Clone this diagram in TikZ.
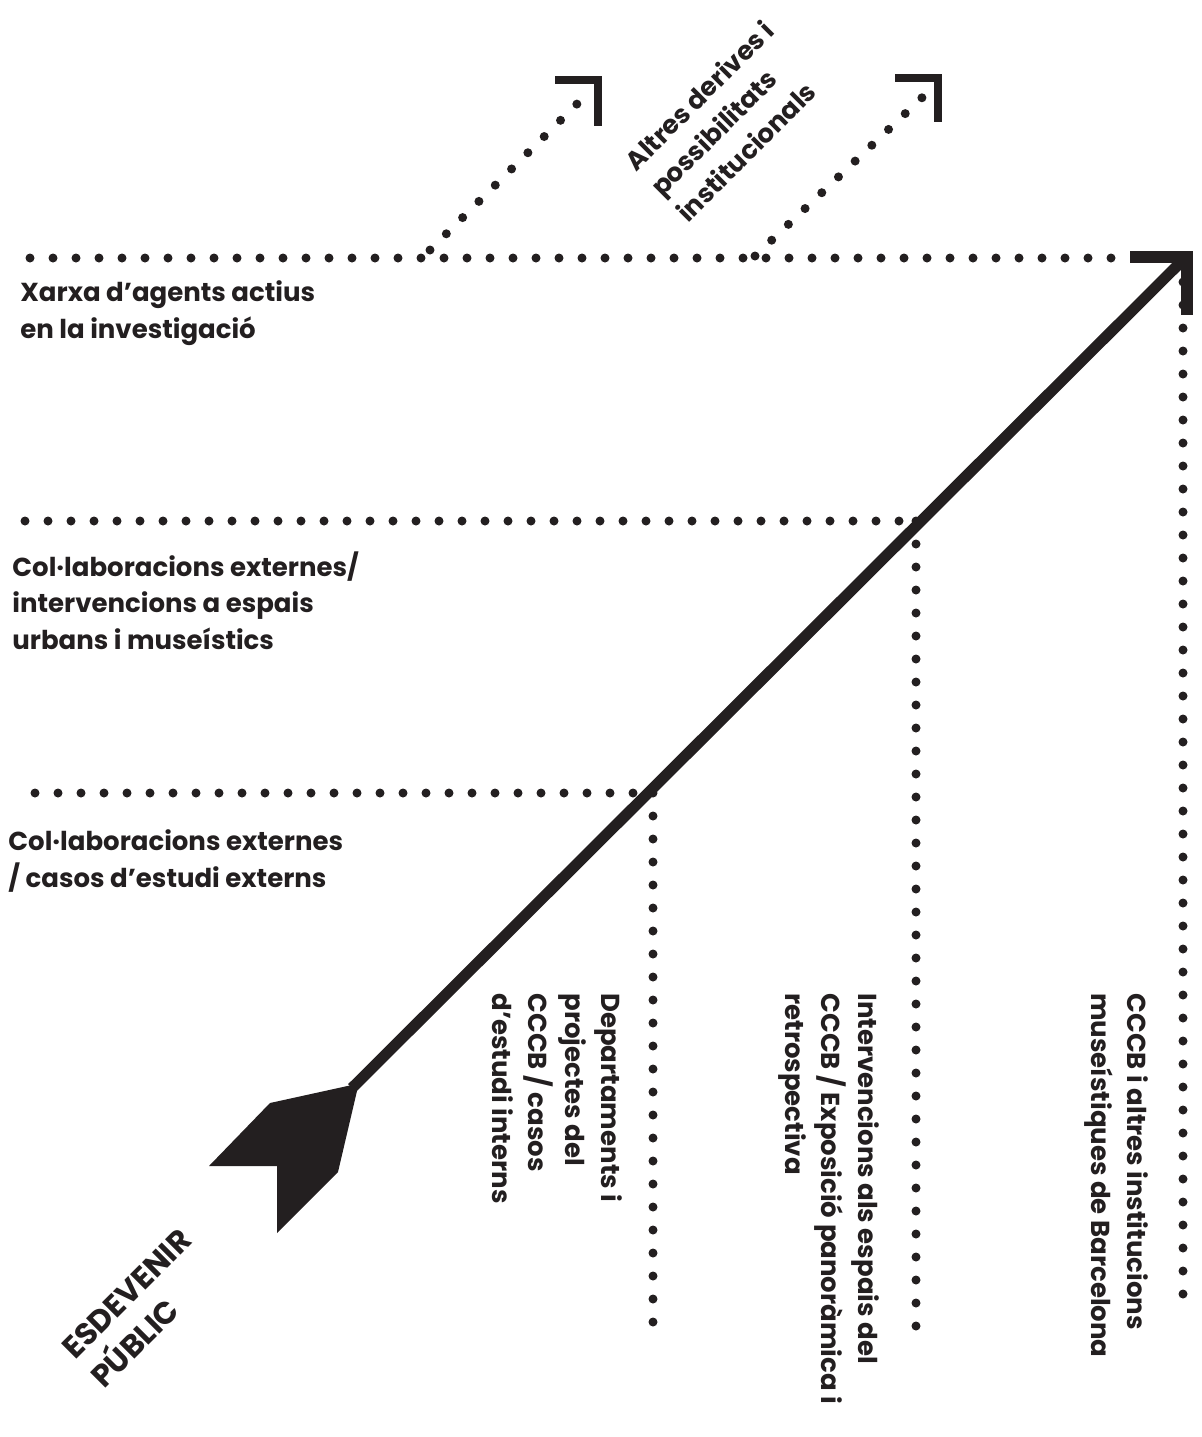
\documentclass[tikz,border=0pt]{standalone}
\usepackage{fontspec}
\setmainfont{Poppins}
\begin{document}
\begin{tikzpicture}[x=0.5pt,y=-0.5pt,
  dotline/.style={line width=4.5pt, line cap=round, dash pattern=on 0pt off 11.5pt, color=ink},
  hook/.style={line width=4.2pt, color=ink, line join=miter, line cap=butt},
  shaft/.style={line width=5.5pt, color=ink},
  lbl/.style={inner sep=0pt, align=left, text=ink, font=\fontsize{13pt}{18.25pt}\selectfont\bfseries},
  biglbl/.style={lbl, font=\fontsize{15.5pt}{20.5pt}\selectfont\bfseries}]
\definecolor{ink}{HTML}{231F20}
\useasboundingbox (0,0) rectangle (1202,1437);

% coordinates
\coordinate (h1s) at (30,258);   \coordinate (h1e) at (1118,258);
\coordinate (h2s) at (25,521);   \coordinate (h2e) at (916,521);
\coordinate (h3s) at (35,793);   \coordinate (h3e) at (653,793);
\coordinate (v1s) at (653,793);  \coordinate (v1e) at (653,1330);
\coordinate (v2s) at (916,521);  \coordinate (v2e) at (916,1326);
\coordinate (v3s) at (1183,282); \coordinate (v3e) at (1183,1316);
\coordinate (d1s) at (430,250);  \coordinate (d1e) at (588,93);
\coordinate (d2s) at (755,256);  \coordinate (d2e) at (928,92);
\coordinate (tail) at (352,1088); \coordinate (head) at (1185,258);

% dotted lines
\draw[dotline] (h1s) -- (h1e);
\draw[dotline] (h2s) -- (h2e);
\draw[dotline] (h3s) -- (h3e);
\draw[dotline] (v1s) -- (v1e);
\draw[dotline] (v2s) -- (v2e);
\draw[dotline] (v3s) -- (v3e);
\draw[dotline] (d1s) -- (d1e);
\draw[dotline] (d2s) -- (d2e);

% small hooks
\draw[hook] (555,80) -- (598,80) -- (598,126);
\draw[hook] (895,78) -- (938,78) -- (938,122);

% main arrow
\draw[shaft] (tail) -- (head);
\draw[line width=6pt, color=ink, line join=miter] (1130,257) -- (1187,257) -- (1187,315);
\fill[ink] (352,1085) -- (357,1091) -- (338,1172) -- (277,1233) -- (277,1166) -- (209,1166) -- (270,1103) -- cycle;

% labels (base west = baseline of the last line)
\node[lbl, anchor=base west] (xarxa) at (20,338) {Xarxa d’agents actius\\en la investigació};
\node[lbl, anchor=base west] (colab1) at (12,649) {Col·laboracions externes/\\intervencions a espais\\urbans i museístics};
\node[lbl, anchor=base west] (colab2) at (8,887) {Col·laboracions externes\\/ casos d’estudi externs};
\node[lbl, anchor=base west, rotate=45] (altres) at (688,224) {Altres derives i\\possibilitats\\institucionals};
\node[biglbl, anchor=base west, rotate=45] (esdev) at (104,1390) {ESDEVENIR\\PÚBLIC};
\node[lbl, anchor=base west, rotate=-90] (dept) at (492,993) {Departaments i\\projectes del\\CCCB / casos\\d’estudi interns};
\node[lbl, anchor=base west, rotate=-90] (interv) at (785,993) {Intervencions als espais del\\CCCB / Exposició panoràmica i\\retrospectiva};
\node[lbl, anchor=base west, rotate=-90] (cccb) at (1091,993) {CCCB i altres institucions\\museístiques de Barcelona};
\end{tikzpicture}
\end{document}
